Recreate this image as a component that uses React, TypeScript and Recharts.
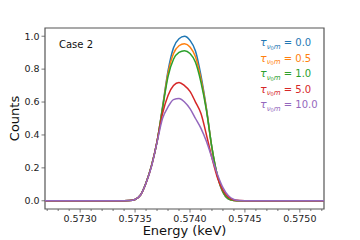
import { LineChart, Line, XAxis, YAxis, ReferenceArea, Legend, Label } from "recharts";

// energy grid (keV); first/last points sit on the axis limits
const energy = [
  0.57268, 0.5734, 0.57345, 0.5735, 0.57355, 0.5736, 0.57365, 0.5737, 0.57375, 0.5738, 0.57385,
  0.5739, 0.57395, 0.574, 0.57405, 0.5741, 0.57415, 0.5742, 0.57425, 0.5743, 0.57435, 0.5744,
  0.57445, 0.5745, 0.57522,
];

const tau00 = [0, 0, 0.001, 0.008, 0.035, 0.11, 0.215, 0.36, 0.57, 0.79, 0.93, 0.985, 1.0, 0.975, 0.91, 0.76, 0.56, 0.32, 0.15, 0.05, 0.01, 0.001, 0, 0, 0];
const tau05 = [0, 0, 0.001, 0.008, 0.035, 0.11, 0.215, 0.36, 0.565, 0.775, 0.895, 0.942, 0.955, 0.935, 0.875, 0.74, 0.555, 0.32, 0.15, 0.052, 0.011, 0.001, 0, 0, 0];
const tau10 = [0, 0, 0.001, 0.008, 0.036, 0.11, 0.215, 0.36, 0.56, 0.755, 0.86, 0.902, 0.912, 0.895, 0.842, 0.72, 0.548, 0.322, 0.153, 0.055, 0.012, 0.002, 0, 0, 0];
const tau50 = [0, 0, 0.001, 0.008, 0.035, 0.108, 0.212, 0.36, 0.53, 0.64, 0.7, 0.719, 0.7, 0.665, 0.6, 0.53, 0.4, 0.26, 0.14, 0.065, 0.022, 0.005, 0.001, 0, 0];
const tau100 = [0, 0, 0.001, 0.008, 0.035, 0.108, 0.21, 0.355, 0.5, 0.57, 0.615, 0.622, 0.6, 0.56, 0.5, 0.44, 0.36, 0.26, 0.16, 0.08, 0.03, 0.008, 0.001, 0, 0];

const tauLabels = ["0.0", "0.5", "1.0", "5.0", "10.0"];
const colors = ["#1f77b4", "#ff7f0e", "#2ca02c", "#d62728", "#9467bd"];
const seriesKeys = ["t0", "t05", "t1", "t5", "t10"];

const yTicks = [0, 0.2, 0.4, 0.6, 0.8, 1.0];
const xMajor = [0.573, 0.5735, 0.574, 0.5745, 0.575];
const xTicks = [
  0.5727, 0.5728, 0.5729, 0.573, 0.5731, 0.5732, 0.5733, 0.5734, 0.5735, 0.5736, 0.5737, 0.5738,
  0.5739, 0.574, 0.5741, 0.5742, 0.5743, 0.5744, 0.5745, 0.5746, 0.5747, 0.5748, 0.5749, 0.575,
  0.5751, 0.5752,
];

const data = energy.map((e, i) => ({
  e,
  t0: tau00[i],
  t05: tau05[i],
  t1: tau10[i],
  t5: tau50[i],
  t10: tau100[i],
}));

const FONT = "DejaVu Sans";
const AXIS = "#555";

function XTick({ x, y, payload }: any) {
  const major = xMajor.some((m) => Math.abs(m - payload.value) < 1e-9);
  return (
    <g>
      <line x1={x} x2={x} y1={y} y2={y + (major ? 3.5 : 2)} stroke={AXIS} strokeWidth={0.8} />
      {major && (
        <text x={x} y={y + 13} textAnchor="middle" fontSize={9.5} fontFamily={FONT} fill="#222">
          {payload.value.toFixed(4)}
        </text>
      )}
    </g>
  );
}

function YTick({ x, y, payload }: any) {
  return (
    <g>
      <line x1={x - 3.5} x2={x} y1={y} y2={y} stroke={AXIS} strokeWidth={0.8} />
      <text x={x - 5.5} y={y} dy="0.35em" textAnchor="end" fontSize={9.5} fontFamily={FONT} fill="#222">
        {payload.value.toFixed(1)}
      </text>
    </g>
  );
}

function TauLegend() {
  return (
    <div style={{ fontFamily: FONT }}>
      {tauLabels.map((t, i) => (
        <div
          key={t}
          style={{ color: colors[i], height: 15.6, lineHeight: "15.6px", fontSize: 10, whiteSpace: "nowrap" }}
        >
          <span style={{ fontStyle: "italic", fontSize: 11 }}>τ</span>
          <span style={{ fontStyle: "italic", fontSize: 7, position: "relative", top: 2.5 }}>
            ν<span style={{ fontStyle: "normal", fontSize: 5, position: "relative", top: 1 }}>0</span>m
          </span>
          <span> = {t}</span>
        </div>
      ))}
    </div>
  );
}

export default function App() {
  return (
    <div style={{ position: "absolute", left: 0, top: 0, width: 360, height: 240, background: "#fff" }}>
      <LineChart width={360} height={240} data={data} margin={{ top: 28, right: 36, left: 0, bottom: 0 }}>
        <XAxis
          dataKey="e"
          type="number"
          domain={[0.57268, 0.57522]}
          ticks={xTicks}
          interval={0}
          tick={<XTick />}
          tickLine={false}
          tickSize={0}
          tickMargin={0}
          axisLine={false}
          height={31}
          allowDataOverflow
        >
          <Label
            content={({ viewBox }: any) => (
              <text
                x={viewBox.x + viewBox.width / 2}
                y={viewBox.y + 21}
                dy="0.35em"
                textAnchor="middle"
                fontSize={13}
                fontFamily={FONT}
                fill="#111"
              >
                Energy (keV)
              </text>
            )}
          />
        </XAxis>
        <YAxis
          type="number"
          domain={[-0.05, 1.05]}
          ticks={yTicks}
          interval={0}
          tick={<YTick />}
          tickLine={false}
          tickSize={0}
          tickMargin={0}
          axisLine={false}
          width={45}
          allowDataOverflow
        >
          <Label
            content={({ viewBox }: any) => {
              const cx = viewBox.x + 14;
              const cy = viewBox.y + viewBox.height / 2;
              return (
                <text
                  x={cx}
                  y={cy}
                  dy="0.35em"
                  textAnchor="middle"
                  fontSize={13}
                  fontFamily={FONT}
                  fill="#111"
                  transform={`rotate(-90 ${cx} ${cy})`}
                >
                  Counts
                </text>
              );
            }}
          />
        </YAxis>
        {seriesKeys.map((k, i) => (
          <Line
            key={k}
            dataKey={k}
            type="monotone"
            stroke={colors[i]}
            strokeWidth={1.5}
            dot={false}
            activeDot={false}
            isAnimationActive={false}
          />
        ))}
        <ReferenceArea
          x1={0.57268}
          x2={0.57522}
          y1={-0.05}
          y2={1.05}
          fill="none"
          stroke={AXIS}
          strokeWidth={1.2}
          fillOpacity={0}
        >
          <Label
            content={({ viewBox }: any) => (
              <text x={viewBox.x + 14} y={viewBox.y + 16} dy="0.35em" fontSize={10} fontFamily={FONT} fill="#111">
                Case 2
              </text>
            )}
          />
        </ReferenceArea>
        <Legend
          layout="vertical"
          align="center"
          verticalAlign="middle"
          content={() => <TauLegend />}
          wrapperStyle={{ top: 35, left: 260, width: 80 }}
        />
      </LineChart>
    </div>
  );
}
